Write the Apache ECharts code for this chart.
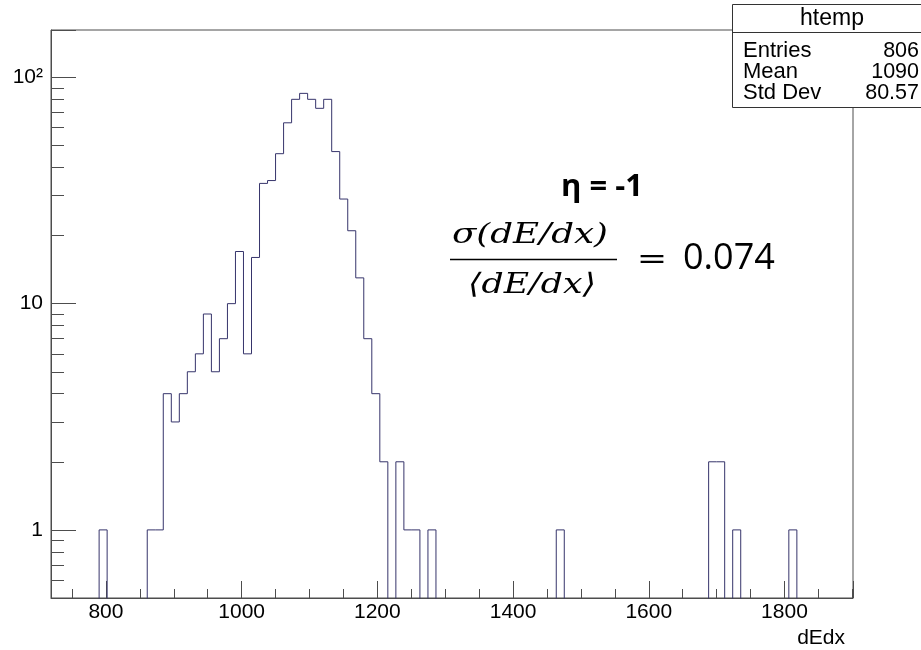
<!DOCTYPE html>
<html><head><meta charset="utf-8">
<script src="https://cdn.jsdelivr.net/npm/echarts@6/dist/echarts.min.js"></script>
<style>html,body{margin:0;padding:0;background:#fff}#c{width:921px;height:650px}</style>
</head><body><div id="c"></div>
<script>
// ---- data ----
const binLow = 719;          // lower edge of first bin
const binWidth = 11.82;      // 100 bins up to ~1901
const counts = [
  0,0,0,0,0,0,1,0,0,0,
  0,0,1,1,4,3,4,5,6,9,
  5,7,10,17,6,16,34,35,46,63,
  80,85,80,73,80,47,29,21,13,7,
  4,2,0,2,1,1,0,1,0,0,
  0,0,0,0,0,0,0,0,0,0,
  0,0,0,1,0,0,0,0,0,0,
  0,0,0,0,0,0,0,0,0,0,
  0,0,2,2,0,1,0,0,0,0,
  0,0,1,0,0,0,0,0,0,0
];
const xTickLabels = [800, 1000, 1200, 1400, 1600, 1800];
const yTickLabels = { '1': '1', '10': '10', '100': '10\u00B2' };
const xTitle = 'dEdx';
const statsTitle = 'htemp';
const statsNames = ['Entries', 'Mean', 'Std Dev'];
const statsValues = ['806', '1090', '80.57'];
const etaText = '\u03B7 = -1';
const numerText = '\u03C3(dE/dx)';
const denomText = '\u27E8dE/dx\u27E9';
const ratioText = '0.074';

// ---- build ----
const nBins = counts.length;
const BELOW = 0.1; // empty bins drawn below the axis minimum (clipped away)
const stepData = [];
for (let i = 0; i < nBins; i++) {
  stepData.push([binLow + i * binWidth, counts[i] > 0 ? counts[i] : BELOW]);
}
stepData.push([binLow + nBins * binWidth, counts[nBins - 1] > 0 ? counts[nBins - 1] : BELOW]);

const mctx = document.createElement('canvas').getContext('2d');
function textW(t, font) { mctx.font = font; return mctx.measureText(t).width; }
const numFont = 'italic 28px "DejaVu Serif"';
const denFont = 'italic 28px "DejaVu Serif"';
const numScale = 156 / textW(numerText, numFont);
const denScale = 128 / textW(denomText, denFont);

const AX = '#4d4d4d';
const LBL = { color: '#000', fontFamily: 'Liberation Sans', fontSize: 21 };

const chart = echarts.init(document.getElementById('c'), null, { renderer: 'canvas' });
chart.setOption({
  animation: false,
  backgroundColor: '#fff',
  grid: { left: 51, right: 68, top: 30, bottom: 52, show: true, borderColor: AX, borderWidth: 1, backgroundColor: 'transparent' },
  xAxis: {
    type: 'value', min: binLow, max: binLow + nBins * binWidth, splitNumber: 5,
    axisLine: { lineStyle: { color: AX } },
    axisTick: { inside: true, length: 17, lineStyle: { color: AX } },
    minorTick: { show: true, splitNumber: 4, length: 9, lineStyle: { color: AX } },
    splitLine: { show: false },
    axisLabel: Object.assign({ margin: 4, showMinLabel: false, showMaxLabel: false,
      formatter: v => xTickLabels.indexOf(Math.round(v)) >= 0 && Math.abs(v - Math.round(v)) < 1e-6 ? String(Math.round(v)) : '' }, LBL)
  },
  yAxis: {
    type: 'log', logBase: 10, min: 0.5, max: 162,
    axisLine: { show: true, lineStyle: { color: AX } },
    axisTick: { show: true, inside: true, length: 25, lineStyle: { color: AX } },
    minorTick: { show: true, splitNumber: 9, length: 13, lineStyle: { color: AX } },
    splitLine: { show: false },
    axisLabel: Object.assign({ margin: 8, showMinLabel: false, showMaxLabel: false,
      formatter: v => yTickLabels[String(Math.round(v * 1000) / 1000)] || '' }, LBL)
  },
  series: [{
    type: 'line', step: 'end', data: stepData, showSymbol: false, symbol: 'none',
    clip: true, lineStyle: { color: '#36346b', width: 1 }, z: 3
  }],
  graphic: { elements: [
    { type: 'text', z: 50, x: 845, y: 638, style: { text: xTitle, align: 'right', verticalAlign: 'middle', fill: '#000', font: '21px "Liberation Sans"' } },
    { type: 'text', z: 50, x: 602, y: 187, style: { text: etaText, align: 'center', verticalAlign: 'middle', fill: '#000', font: 'bold 31px "Open Sans"' } },
    { type: 'text', z: 50, x: 530, y: 236, scaleX: numScale, style: { text: numerText, align: 'center', verticalAlign: 'middle', fill: '#000', font: numFont } },
    { type: 'line', z: 50, shape: { x1: 450, y1: 259.5, x2: 617, y2: 259.5 }, style: { stroke: '#000', lineWidth: 1.6 } },
    { type: 'text', z: 50, x: 532, y: 286, scaleX: denScale, style: { text: denomText, align: 'center', verticalAlign: 'middle', fill: '#000', font: denFont } },
    { type: 'text', z: 50, x: 652, y: 261, scaleX: 1.3, style: { text: '=', align: 'center', verticalAlign: 'middle', fill: '#000', font: '28px "DejaVu Serif"' } },
    { type: 'text', z: 50, x: 683, y: 259, style: { text: ratioText, align: 'left', verticalAlign: 'middle', fill: '#000', font: '36px "Open Sans"' } },
    // stats box
    { type: 'rect', z: 60, shape: { x: 732.5, y: 4.5, width: 200, height: 103 }, style: { fill: '#fff', stroke: '#333', lineWidth: 1 } },
    { type: 'line', z: 61, shape: { x1: 732.5, y1: 32.5, x2: 921, y2: 32.5 }, style: { stroke: '#333', lineWidth: 1 } },
    { type: 'text', z: 62, x: 832, y: 19, style: { text: statsTitle, align: 'center', verticalAlign: 'middle', fill: '#000', font: '23px "Liberation Sans"' } },
    ...statsNames.map((n, i) => ({ type: 'text', z: 62, x: 743, y: 51 + i * 21, style: { text: n, align: 'left', verticalAlign: 'middle', fill: '#000', font: '22px "Liberation Sans"' } })),
    ...statsValues.map((v, i) => ({ type: 'text', z: 62, x: 919, y: 51 + i * 21, style: { text: v, align: 'right', verticalAlign: 'middle', fill: '#000', font: '21.5px "Liberation Sans"' } }))
  ] }
});
</script>
</body></html>
